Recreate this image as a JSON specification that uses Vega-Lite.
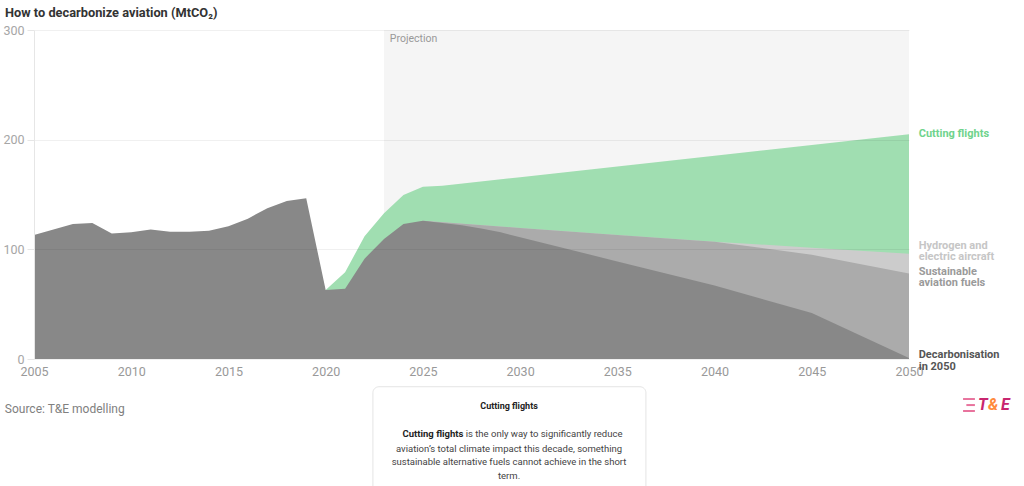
{
  "$schema": "https://vega.github.io/schema/vega-lite/v6.json",
  "width": 875,
  "height": 329,
  "autosize": {"type": "none"},
  "padding": {"left": 34, "top": 30, "right": 115, "bottom": 127},
  "background": "white",
  "config": {"view": {"stroke": null}, "font": "Roboto"},
  "title": {"text": "How to decarbonize aviation (MtCO₂)", "anchor": "start", "frame": "group", "dx": -29, "offset": 4, "fontSize": 12.8, "fontWeight": "bold", "color": "#333333", "font": "Roboto"},
  "datasets": {
    "emissions": [
      {"year": 2020, "scenario": "Cutting flights", "value": 63},
      {"year": 2021, "scenario": "Cutting flights", "value": 79},
      {"year": 2022, "scenario": "Cutting flights", "value": 112},
      {"year": 2023, "scenario": "Cutting flights", "value": 133},
      {"year": 2024, "scenario": "Cutting flights", "value": 149.5},
      {"year": 2025, "scenario": "Cutting flights", "value": 157},
      {"year": 2026, "scenario": "Cutting flights", "value": 158},
      {"year": 2030, "scenario": "Cutting flights", "value": 165.8},
      {"year": 2035, "scenario": "Cutting flights", "value": 175.6},
      {"year": 2040, "scenario": "Cutting flights", "value": 185.4},
      {"year": 2045, "scenario": "Cutting flights", "value": 195.2},
      {"year": 2050, "scenario": "Cutting flights", "value": 205},
      {"year": 2025, "scenario": "Hydrogen and electric aircraft", "value": 126},
      {"year": 2030, "scenario": "Hydrogen and electric aircraft", "value": 119.5},
      {"year": 2035, "scenario": "Hydrogen and electric aircraft", "value": 113},
      {"year": 2040, "scenario": "Hydrogen and electric aircraft", "value": 107},
      {"year": 2045, "scenario": "Hydrogen and electric aircraft", "value": 101.5},
      {"year": 2050, "scenario": "Hydrogen and electric aircraft", "value": 96},
      {"year": 2025, "scenario": "Sustainable aviation fuels", "value": 126},
      {"year": 2030, "scenario": "Sustainable aviation fuels", "value": 119.5},
      {"year": 2035, "scenario": "Sustainable aviation fuels", "value": 113},
      {"year": 2040, "scenario": "Sustainable aviation fuels", "value": 107},
      {"year": 2045, "scenario": "Sustainable aviation fuels", "value": 95},
      {"year": 2050, "scenario": "Sustainable aviation fuels", "value": 78},
      {"year": 2005, "scenario": "Decarbonisation in 2050", "value": 113},
      {"year": 2006, "scenario": "Decarbonisation in 2050", "value": 118},
      {"year": 2007, "scenario": "Decarbonisation in 2050", "value": 123},
      {"year": 2008, "scenario": "Decarbonisation in 2050", "value": 124},
      {"year": 2009, "scenario": "Decarbonisation in 2050", "value": 114.5},
      {"year": 2010, "scenario": "Decarbonisation in 2050", "value": 115.5},
      {"year": 2011, "scenario": "Decarbonisation in 2050", "value": 118},
      {"year": 2012, "scenario": "Decarbonisation in 2050", "value": 116},
      {"year": 2013, "scenario": "Decarbonisation in 2050", "value": 116},
      {"year": 2014, "scenario": "Decarbonisation in 2050", "value": 117},
      {"year": 2015, "scenario": "Decarbonisation in 2050", "value": 121},
      {"year": 2016, "scenario": "Decarbonisation in 2050", "value": 128},
      {"year": 2017, "scenario": "Decarbonisation in 2050", "value": 137.5},
      {"year": 2018, "scenario": "Decarbonisation in 2050", "value": 144},
      {"year": 2019, "scenario": "Decarbonisation in 2050", "value": 146.5},
      {"year": 2020, "scenario": "Decarbonisation in 2050", "value": 63},
      {"year": 2021, "scenario": "Decarbonisation in 2050", "value": 64},
      {"year": 2022, "scenario": "Decarbonisation in 2050", "value": 91.5},
      {"year": 2023, "scenario": "Decarbonisation in 2050", "value": 109.5},
      {"year": 2024, "scenario": "Decarbonisation in 2050", "value": 123},
      {"year": 2025, "scenario": "Decarbonisation in 2050", "value": 126},
      {"year": 2026, "scenario": "Decarbonisation in 2050", "value": 124},
      {"year": 2027, "scenario": "Decarbonisation in 2050", "value": 122},
      {"year": 2028, "scenario": "Decarbonisation in 2050", "value": 119},
      {"year": 2029, "scenario": "Decarbonisation in 2050", "value": 115.5},
      {"year": 2030, "scenario": "Decarbonisation in 2050", "value": 111},
      {"year": 2035, "scenario": "Decarbonisation in 2050", "value": 89},
      {"year": 2040, "scenario": "Decarbonisation in 2050", "value": 67},
      {"year": 2045, "scenario": "Decarbonisation in 2050", "value": 42},
      {"year": 2050, "scenario": "Decarbonisation in 2050", "value": 1}
    ]
  },
  "layer": [
    {
      "data": {"values": [{}]},
      "mark": {"type": "rect", "fill": "#f5f5f5"},
      "encoding": {
        "x": {"datum": 2023, "type": "quantitative", "scale": {"domain": [2005, 2050], "nice": false, "zero": false},
          "axis": {"values": [2005, 2010, 2015, 2020, 2025, 2030, 2035, 2040, 2045, 2050], "format": "d", "title": null, "grid": false, "domain": false, "ticks": false, "labelFlush": false, "labelPadding": 6, "labelColor": "#999999", "labelFontSize": 12.5, "labelFont": "Roboto"}},
        "x2": {"datum": 2050},
        "y": {"datum": 0, "type": "quantitative", "scale": {"domain": [0, 300], "nice": false},
          "axis": {"values": [0, 100, 200, 300], "title": null, "grid": true, "gridColor": "#000000", "gridOpacity": 0.06, "domain": true, "domainColor": "#e6e6e6", "ticks": true, "tickSize": 7, "tickColor": "#e6e6e6", "labelFlush": false, "labelPadding": 3, "labelColor": "#a6a6a6", "labelFontSize": 12.5, "labelFont": "Roboto", "zindex": 1}},
        "y2": {"datum": 300}
      }
    },
    {
      "data": {"name": "emissions"},
      "transform": [{"filter": "datum.scenario === 'Cutting flights'"}],
      "mark": {"type": "area", "color": "#a0deb1", "opacity": 1, "interpolate": "linear"},
      "encoding": {
        "x": {"field": "year", "type": "quantitative", "scale": {"domain": [2005, 2050], "nice": false, "zero": false}},
        "y": {"field": "value", "type": "quantitative", "stack": null, "scale": {"domain": [0, 300], "nice": false}}
      }
    },
    {
      "data": {"name": "emissions"},
      "transform": [{"filter": "datum.scenario === 'Hydrogen and electric aircraft'"}],
      "mark": {"type": "area", "color": "#cccccc", "opacity": 1},
      "encoding": {
        "x": {"field": "year", "type": "quantitative"},
        "y": {"field": "value", "type": "quantitative", "stack": null}
      }
    },
    {
      "data": {"name": "emissions"},
      "transform": [{"filter": "datum.scenario === 'Sustainable aviation fuels'"}],
      "mark": {"type": "area", "color": "#ababab", "opacity": 1},
      "encoding": {
        "x": {"field": "year", "type": "quantitative"},
        "y": {"field": "value", "type": "quantitative", "stack": null}
      }
    },
    {
      "data": {"name": "emissions"},
      "transform": [{"filter": "datum.scenario === 'Decarbonisation in 2050'"}],
      "mark": {"type": "area", "color": "#888888", "opacity": 1},
      "encoding": {
        "x": {"field": "year", "type": "quantitative"},
        "y": {"field": "value", "type": "quantitative", "stack": null}
      }
    },
    {
      "data": {"values": [{}]},
      "mark": {"type": "text", "align": "left", "baseline": "middle", "fontSize": 10.5, "color": "#999999", "font": "Roboto"},
      "encoding": {
        "x": {"datum": 2023.3, "type": "quantitative"},
        "y": {"datum": 291.8, "type": "quantitative"},
        "text": {"value": "Projection"}
      }
    },
    {
      "data": {"values": [{}]},
      "mark": {"type": "text", "align": "left", "baseline": "middle", "fontSize": 11, "fontWeight": "bold", "color": "#6fd38c", "font": "Roboto"},
      "encoding": {
        "x": {"datum": 2050.5, "type": "quantitative"},
        "y": {"datum": 205, "type": "quantitative"},
        "text": {"value": "Cutting flights"}
      }
    },
    {
      "data": {"values": [{}]},
      "mark": {"type": "text", "align": "left", "baseline": "middle", "fontSize": 11, "fontWeight": "bold", "color": "#c6c6c6", "font": "Roboto", "lineHeight": 11},
      "encoding": {
        "x": {"datum": 2050.5, "type": "quantitative"},
        "y": {"datum": 103.3, "type": "quantitative"},
        "text": {"value": ["Hydrogen and", "electric aircraft"]}
      }
    },
    {
      "data": {"values": [{}]},
      "mark": {"type": "text", "align": "left", "baseline": "middle", "fontSize": 11, "fontWeight": "bold", "color": "#9a9a9a", "font": "Roboto", "lineHeight": 11},
      "encoding": {
        "x": {"datum": 2050.5, "type": "quantitative"},
        "y": {"datum": 79.3, "type": "quantitative"},
        "text": {"value": ["Sustainable", "aviation fuels"]}
      }
    },
    {
      "data": {"values": [{}]},
      "mark": {"type": "text", "align": "left", "baseline": "middle", "fontSize": 11, "fontWeight": "bold", "color": "#555555", "font": "Roboto", "lineHeight": 12},
      "encoding": {
        "x": {"datum": 2050.5, "type": "quantitative"},
        "y": {"datum": 3.6, "type": "quantitative"},
        "text": {"value": ["Decarbonisation", "in 2050"]}
      }
    },
    {
      "data": {"values": [{}]},
      "mark": {"type": "text", "align": "left", "baseline": "middle", "fontSize": 12, "color": "#808080", "font": "Roboto"},
      "encoding": {
        "x": {"datum": 2003.5, "type": "quantitative"},
        "y": {"datum": -45.6, "type": "quantitative"},
        "text": {"value": "Source: T&E modelling"}
      }
    },
    {
      "data": {"values": [{}]},
      "mark": {"type": "rect", "fill": "#ffffff", "stroke": "#e4e4e4", "strokeWidth": 1, "cornerRadius": 6},
      "encoding": {
        "x": {"datum": 2022.43, "type": "quantitative"},
        "x2": {"datum": 2036.47},
        "y": {"datum": -25.3, "type": "quantitative"},
        "y2": {"datum": -140}
      }
    },
    {
      "data": {"values": [{}]},
      "mark": {"type": "text", "align": "center", "baseline": "middle", "fontSize": 9, "fontWeight": "bold", "color": "#222222", "font": "Roboto"},
      "encoding": {
        "x": {"datum": 2029.43, "type": "quantitative"},
        "y": {"datum": -42.9, "type": "quantitative"},
        "text": {"value": "Cutting flights"}
      }
    },
    {
      "data": {"values": [{}]},
      "mark": {"type": "text", "align": "right", "baseline": "middle", "fontSize": 9.5, "fontWeight": "bold", "color": "#222222", "font": "Roboto"},
      "encoding": {
        "x": {"datum": 2027.08, "type": "quantitative"},
        "y": {"datum": -68.7, "type": "quantitative"},
        "text": {"value": "Cutting flights"}
      }
    },
    {
      "data": {"values": [{}]},
      "mark": {"type": "text", "align": "left", "baseline": "middle", "fontSize": 9.5, "color": "#444444", "font": "Roboto"},
      "encoding": {
        "x": {"datum": 2027.2, "type": "quantitative"},
        "y": {"datum": -68.7, "type": "quantitative"},
        "text": {"value": "is the only way to significantly reduce"}
      }
    },
    {
      "data": {"values": [{}]},
      "mark": {"type": "text", "align": "center", "baseline": "middle", "fontSize": 9.5, "color": "#444444", "font": "Roboto"},
      "encoding": {
        "x": {"datum": 2029.43, "type": "quantitative"},
        "y": {"datum": -81.8, "type": "quantitative"},
        "text": {"value": "aviation’s total climate impact this decade, something"}
      }
    },
    {
      "data": {"values": [{}]},
      "mark": {"type": "text", "align": "center", "baseline": "middle", "fontSize": 9.5, "color": "#444444", "font": "Roboto"},
      "encoding": {
        "x": {"datum": 2029.43, "type": "quantitative"},
        "y": {"datum": -93.9, "type": "quantitative"},
        "text": {"value": "sustainable alternative fuels cannot achieve in the short"}
      }
    },
    {
      "data": {"values": [{}]},
      "mark": {"type": "text", "align": "center", "baseline": "middle", "fontSize": 9.5, "color": "#444444", "font": "Roboto"},
      "encoding": {
        "x": {"datum": 2029.43, "type": "quantitative"},
        "y": {"datum": -106.7, "type": "quantitative"},
        "text": {"value": "term."}
      }
    },
    {
      "data": {"values": [{}]},
      "mark": {"type": "rule", "color": "#e8739d", "strokeWidth": 2},
      "encoding": {
        "x": {"datum": 2052.78, "type": "quantitative"},
        "x2": {"datum": 2053.39},
        "y": {"datum": -36.5, "type": "quantitative"}
      }
    },
    {
      "data": {"values": [{}]},
      "mark": {"type": "rule", "color": "#e8739d", "strokeWidth": 2},
      "encoding": {
        "x": {"datum": 2052.95, "type": "quantitative"},
        "x2": {"datum": 2053.39},
        "y": {"datum": -42, "type": "quantitative"}
      }
    },
    {
      "data": {"values": [{}]},
      "mark": {"type": "rule", "color": "#e8739d", "strokeWidth": 2},
      "encoding": {
        "x": {"datum": 2052.78, "type": "quantitative"},
        "x2": {"datum": 2053.39},
        "y": {"datum": -47.4, "type": "quantitative"}
      }
    },
    {
      "data": {"values": [{}]},
      "mark": {"type": "text", "align": "left", "baseline": "middle", "fontSize": 16, "fontWeight": "bold", "fontStyle": "italic", "color": "#c8266f", "font": "Roboto"},
      "encoding": {
        "x": {"datum": 2053.55, "type": "quantitative"},
        "y": {"datum": -41.9, "type": "quantitative"},
        "text": {"value": "T"}
      }
    },
    {
      "data": {"values": [{}]},
      "mark": {"type": "text", "align": "left", "baseline": "middle", "fontSize": 16, "fontWeight": "bold", "fontStyle": "italic", "color": "#ff8a3d", "font": "Roboto"},
      "encoding": {
        "x": {"datum": 2054.06, "type": "quantitative"},
        "y": {"datum": -41.9, "type": "quantitative"},
        "text": {"value": "&"}
      }
    },
    {
      "data": {"values": [{}]},
      "mark": {"type": "text", "align": "left", "baseline": "middle", "fontSize": 16, "fontWeight": "bold", "fontStyle": "italic", "color": "#c8266f", "font": "Roboto"},
      "encoding": {
        "x": {"datum": 2054.73, "type": "quantitative"},
        "y": {"datum": -41.9, "type": "quantitative"},
        "text": {"value": "E"}
      }
    }
  ]
}
